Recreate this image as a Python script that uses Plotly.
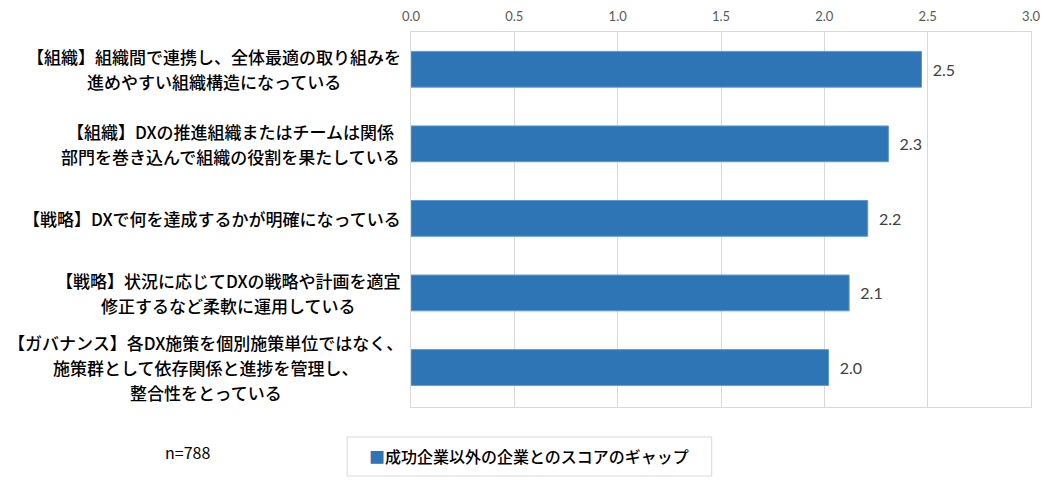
import plotly.graph_objects as go

# Daten
label_lines = [
    ["【組織】組織間で連携し、全体最適の取り組みを", "進めやすい組織構造になっている"],
    ["【組織】DXの推進組織またはチームは関係", "部門を巻き込んで組織の役割を果たしている"],
    ["【戦略】DXで何を達成するかが明確になっている"],
    ["【戦略】状況に応じてDXの戦略や計画を適宜", "修正するなど柔軟に運用している"],
    ["【ガバナンス】各DX施策を個別施策単位ではなく、", "施策群として依存関係と進捗を管理し、", "整合性をとっている"],
]
keys = ["c1", "c2", "c3", "c4", "c5"]
gap_values = [2.47, 2.31, 2.21, 2.12, 2.02]
series_name = "成功企業以外の企業とのスコアのギャップ"
x_ticks = [0.0, 0.5, 1.0, 1.5, 2.0, 2.5, 3.0]
note = "n=788"

jp_font = "Noto Sans CJK JP"
num_font = "Lato, Noto Sans, sans-serif"
grid_col = "#D9D9D9"
bar_col = "#2E75B6"

# Seite hat 8px body margin -> Plotbereich 411..1031 / 32..407
ML, MR, MT, MB = 403, 33, 24, 92
PW = 1056 - ML - MR
LABEL_SIZE = 17
LINE_H = 25


def text_px(s, size=LABEL_SIZE):
    # grobe Breitenschaetzung fuer Zentrierung der Zeilen
    return sum(size * (0.6 if ord(ch) < 128 else 0.97) for ch in s)


fig = go.Figure()
fig.add_trace(
    go.Bar(
        x=gap_values,
        y=keys,
        orientation="h",
        name=series_name,
        marker=dict(color=bar_col, line=dict(color="#5B9BD5", width=1)),
        width=0.48,
        text=[f"  {v:.1f}" for v in gap_values],
        textposition="outside",
        textfont=dict(family=num_font, size=16, color="#404040"),
        cliponaxis=False,
        showlegend=False,
    )
)

# Kategorien als zentrierte Textbloecke links der Achse
right_px = -16
for k, lines in zip(keys, label_lines):
    block = max(text_px(s) for s in lines)
    cx = max((right_px - block / 2) / PW, (6 + block / 2 - ML) / PW)
    mid = (len(lines) - 1) / 2
    for i, s in enumerate(lines):
        fig.add_annotation(
            x=cx, xref="paper", y=k, yref="y",
            text=s, showarrow=False,
            xanchor="center", yanchor="middle",
            yshift=(mid - i) * LINE_H,
            font=dict(family=jp_font, size=LABEL_SIZE, color="#000000", weight=500),
        )

fig.add_annotation(
    x=-0.36, xref="paper", y=-0.12, yref="paper",
    text=note, showarrow=False, xanchor="center", yanchor="middle",
    font=dict(family=jp_font, size=16, color="#000000"),
)

# Legende als Kasten unter dem Diagramm
fig.add_shape(
    type="rect", xref="paper", yref="paper",
    x0=-0.103, x1=0.485, y0=-0.184, y1=-0.08,
    line=dict(color=grid_col, width=1), fillcolor="white",
)
fig.add_annotation(
    x=0.19, xref="paper", y=-0.131, yref="paper",
    text=f"<span style='color:{bar_col}'>■</span>{series_name}",
    showarrow=False, xanchor="center", yanchor="middle",
    font=dict(family=jp_font, size=16, color="#000000", weight=500),
)

fig.update_layout(
    width=1056,
    height=491,
    margin=dict(l=ML, r=MR, t=MT, b=MB),
    plot_bgcolor="white",
    paper_bgcolor="white",
    showlegend=False,
    xaxis=dict(
        side="top",
        range=[0, 3.0],
        tickvals=x_ticks,
        ticktext=[f"{t:.1f}" for t in x_ticks],
        tickfont=dict(family=num_font, size=13, color="#595959"),
        ticklabelstandoff=5,
        automargin=False,
        showgrid=True, gridcolor=grid_col, gridwidth=1,
        showline=True, linecolor=grid_col, mirror=True,
        zeroline=False, ticks="",
    ),
    yaxis=dict(
        categoryorder="array", categoryarray=keys,
        autorange="reversed",
        automargin=False,
        showticklabels=False,
        showline=True, linecolor=grid_col, mirror=True,
        showgrid=False, ticks="",
    ),
)

fig.write_html("out.html")
